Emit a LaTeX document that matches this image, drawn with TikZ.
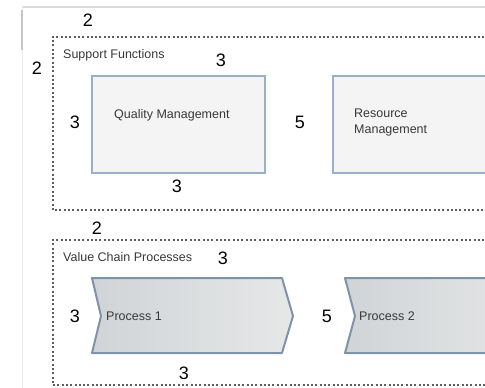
\documentclass[tikz,border=0pt]{standalone}
\usepackage{fontspec}
\setmainfont{Liberation Sans}
\usepackage{tikz}
\usetikzlibrary{positioning,calc}
\definecolor{framegray}{HTML}{DADADA}
\definecolor{dotgray}{HTML}{5E5E5E}
\definecolor{boxfill}{HTML}{F4F4F4}
\definecolor{boxline}{HTML}{9AB0C6}
\definecolor{chevline}{HTML}{7F92AC}
\definecolor{chevdark}{HTML}{D0D4D6}
\definecolor{chevlight}{HTML}{E6E8E8}
\definecolor{textgray}{HTML}{383838}

\begin{document}
\begin{tikzpicture}[x=1pt, y=-1pt,
    dim_node/.style={inner sep=0pt, font=\fontsize{18}{18}\selectfont, text=black},
    caption_node/.style={inner sep=0pt, anchor=west, align=left, font=\fontsize{12.5}{16}\selectfont, text=textgray},
    group_box/.style={draw=dotgray, line width=1.5pt, dash pattern=on 2pt off 2.3pt},
    func_box/.style={draw=boxline, line width=1.5pt, fill=boxfill},
    chevron/.style={draw=chevline, line width=2pt, line join=round, left color=chevdark, right color=chevlight}
]
\useasboundingbox (0,0) rectangle (485,388);
\clip (0,0) rectangle (485,388);

% Window frame
\draw[framegray, line width=1.5pt] (22,7) -- (485,7);
\draw[framegray!50, line width=1pt] (22,7) -- (22,388);
\draw[gray!45, line width=2pt] (22,10) -- (22,50);

% Group boxes
\draw[group_box] (540,37) -- (53,37) -- (53,210) -- (540,210);
\draw[group_box] (540,240) -- (53,240) -- (53,385) -- (540,385);

% Support functions
\draw[func_box] (92,76) rectangle (265,173);
\draw[func_box] (333,76) rectangle (540,173);
\node[caption_node] (sf) at (63,55) {Support Functions};
\node[caption_node] (qm) at (114,115) {Quality Management};
\node[caption_node] (rm) at (354,122) {Resource\\Management};

% Value chain processes
\draw[chevron] (92,278) -- (282,278) -- (293,316) -- (282,353) -- (92,353) -- (101,316) -- cycle;
\draw[chevron] (345,278) -- (540,278) -- (540,353) -- (345,353) -- (355,316) -- cycle;
\node[caption_node] (vc) at (63,257) {Value Chain Processes};
\node[caption_node] (p1) at (106,316) {Process 1};
\node[caption_node] (p2) at (359,316) {Process 2};

% Spacing numbers
\node[dim_node] (d1) at (88,20) {2};
\node[dim_node] (d2) at (37,68) {2};
\node[dim_node] (d3) at (221,60) {3};
\node[dim_node] (d4) at (75,122) {3};
\node[dim_node] (d5) at (177,186) {3};
\node[dim_node] (d6) at (300,122) {5};
\node[dim_node] (d7) at (97,228) {2};
\node[dim_node] (d8) at (223,258) {3};
\node[dim_node] (d9) at (75,316) {3};
\node[dim_node] (d10) at (184,373) {3};
\node[dim_node] (d11) at (327,316) {5};

\end{tikzpicture}
\end{document}
